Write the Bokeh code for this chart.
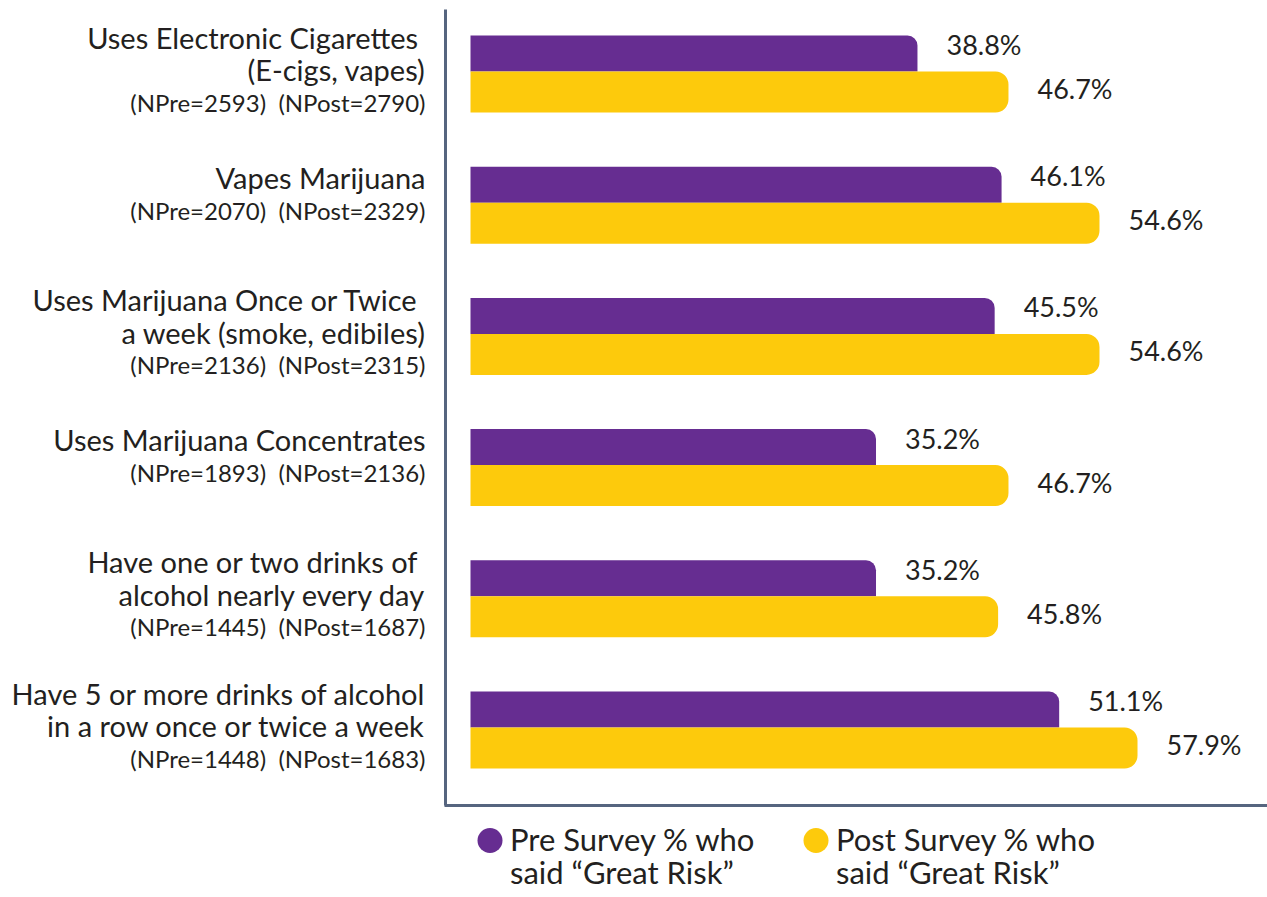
import numpy as np
from bokeh.plotting import figure
from bokeh.models import Range1d
from bokeh.core.properties import value
from bokeh.embed import file_html
from bokeh.resources import INLINE

# ---------------- data ----------------
categories = [
    "Uses Electronic Cigarettes \n(E-cigs, vapes)",
    "Vapes Marijuana",
    "Uses Marijuana Once or Twice \na week (smoke, edibiles)",
    "Uses Marijuana Concentrates",
    "Have one or two drinks of \nalcohol nearly every day",
    "Have 5 or more drinks of alcohol\nin a row once or twice a week",
]
n_pre = [2593, 2070, 2136, 1893, 1445, 1448]
n_post = [2790, 2329, 2315, 2136, 1687, 1683]
pre_pct = [38.8, 46.1, 45.5, 35.2, 35.2, 51.1]
post_pct = [46.7, 54.6, 54.6, 46.7, 45.8, 57.9]
series_names = ["Pre Survey % who\nsaid \u201cGreat Risk\u201d",
                "Post Survey % who\nsaid \u201cGreat Risk\u201d"]

# ---------------- style / layout ----------------
W, H = 1267, 897
PURPLE = "#662d91"
YELLOW = "#fdca0c"
AXIS = "#56657f"
TEXT = "#231f20"
FONT = value("Lato")

ZERO_PX = 470.0      # pixel of 0 %
PX_PER_PCT = 11.52   # pixels per percent
ROW0_PX = 71.0       # pixel of first row's center
ROW_PX = 131.2       # pixels between rows


def xd(px):
    return (px - ZERO_PX) / PX_PER_PCT


def yd(py):
    return (py - ROW0_PX) / ROW_PX


p = figure(width=W, height=H, output_backend="svg", toolbar_location=None,
           x_range=Range1d(xd(0), xd(W)), y_range=Range1d(yd(H), yd(0)),
           x_axis_location=None, y_axis_location=None,
           min_border=0, min_border_left=0, min_border_right=0,
           min_border_top=0, min_border_bottom=0)
p.outline_line_color = None
p.xgrid.visible = False
p.ygrid.visible = False
p.background_fill_color = "white"
p.border_fill_color = "white"

idx = np.arange(len(categories), dtype=float)
pre_h = 36 / ROW_PX
post_h = 41 / ROW_PX

p.hbar(y=idx - pre_h / 2, left=0, right=pre_pct, height=pre_h,
       fill_color=PURPLE, line_color=None, border_radius=(0, 10, 0, 0))
p.hbar(y=idx + post_h / 2, left=0, right=post_pct, height=post_h,
       fill_color=YELLOW, line_color=None, border_radius=(0, 13, 13, 0))

# axis lines
p.segment(x0=[xd(445)], y0=[yd(9)], x1=[xd(445)], y1=[yd(805)],
          line_color=AXIS, line_width=3)
p.segment(x0=[xd(444)], y0=[yd(805)], x1=[xd(W)], y1=[yd(805)],
          line_color=AXIS, line_width=3)

# value labels
p.text(x=pre_pct, y=idx, text=[f"{v:.1f}%" for v in pre_pct],
       x_offset=29, y_offset=-27, text_align="left", text_baseline="middle",
       text_font=FONT, text_font_size="27px", text_color=TEXT)
p.text(x=post_pct, y=idx, text=[f"{v:.1f}%" for v in post_pct],
       x_offset=29, y_offset=17, text_align="left", text_baseline="middle",
       text_font=FONT, text_font_size="27px", text_color=TEXT)

# category labels
nlines = np.array([c.count("\n") + 1 for c in categories])
p.text(x=[0] * len(categories), y=idx, text=categories,
       x_offset=-45, y_offset=list(-25.5 + 7.5 * (nlines - 1)),
       text_align="right", text_baseline="middle", text_line_height=0.934,
       text_font=FONT, text_font_size="29px", text_color=TEXT)
n_labels = [f"(NPre={a})\u00a0 (NPost={b})" for a, b in zip(n_pre, n_post)]
p.text(x=[0] * len(categories), y=idx, text=n_labels,
       x_offset=-45, y_offset=list(7.5 + 23 * (nlines - 1)),
       text_align="right", text_baseline="middle",
       text_font=FONT, text_font_size="24px", text_color=TEXT)

# legend
leg_x_px = [489.5, 815.5]
leg_colors = [PURPLE, YELLOW]
p.scatter(x=[xd(v) for v in leg_x_px], y=[yd(840)] * 2, size=25,
          fill_color=leg_colors, line_color=None)
p.text(x=[xd(v + 20) for v in leg_x_px], y=[yd(855)] * 2, text=series_names,
       text_align="left", text_baseline="middle", text_line_height=0.86,
       text_font=FONT, text_font_size="31px", text_color=TEXT)

open("out.html", "w").write(file_html(p, INLINE))
